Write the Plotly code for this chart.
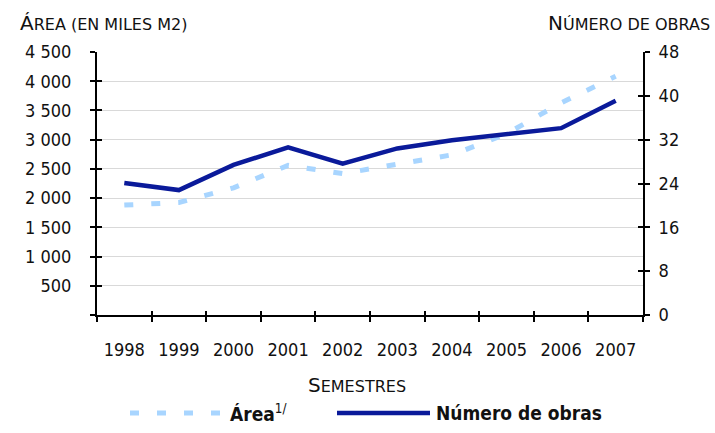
import plotly.graph_objects as go

years = ["1998", "1999", "2000", "2001", "2002", "2003", "2004", "2005", "2006", "2007"]
area_miles_m2 = [1880, 1925, 2175, 2560, 2420, 2585, 2740, 3100, 3630, 4085]
numero_obras = [24.1, 22.8, 27.4, 30.6, 27.6, 30.4, 31.9, 33.0, 34.1, 39.1]

left_ticks = [0, 500, 1000, 1500, 2000, 2500, 3000, 3500, 4000, 4500]
left_labels = ["", "500", "1 000", "1 500", "2 000", "2 500", "3 000", "3 500", "4 000", "4 500"]
right_ticks = [0, 8, 16, 24, 32, 40, 48]
right_labels = ["0", "8", "16", "24", "32", "40", "48"]

FONT = "DejaVu Sans Condensed, Liberation Sans Narrow, sans-serif"
TFONT = "DejaVu Sans, sans-serif"
DARK = "#0a1a9a"
LIGHT = "#a8d5ff"

W, H = 715, 433
L, R, T, B = 97, 72, 52, 118
PW, PH = W - L - R, H - T - B


def px(x):
    return (x - L) / PW


def py(y):
    return (H - B - y) / PH


fig = go.Figure()
fig.add_trace(go.Scatter(x=years, y=area_miles_m2, mode="lines", name="Área",
                         line=dict(color=LIGHT, width=5, dash="9px,18px"),
                         yaxis="y", showlegend=False))
fig.add_trace(go.Scatter(x=years, y=numero_obras, mode="lines", name="Número de obras",
                         line=dict(color=DARK, width=4.5),
                         yaxis="y2", showlegend=False))

axis_common = dict(showline=True, linecolor="black", linewidth=2,
                   tickcolor="black", tickwidth=2, ticklen=5,
                   tickfont=dict(family=FONT, size=18, color="#111"))

fig.update_layout(
    width=W, height=H,
    margin=dict(l=L, r=R, t=T, b=B, autoexpand=False),
    paper_bgcolor="white", plot_bgcolor="white",
    separators=", ",
    xaxis=dict(type="category", categoryorder="array", categoryarray=years,
               range=[-0.5, 9.5], tickson="boundaries", ticks="outside",
               showgrid=False, zeroline=False, ticklabelstandoff=17,
               **axis_common),
    xaxis2=dict(overlaying="x", range=[0, 10], tickvals=list(range(11)),
                ticks="inside", showticklabels=False, showgrid=False,
                zeroline=False, anchor="y", side="bottom",
                showline=False, tickcolor="black", tickwidth=2, ticklen=4),
    yaxis=dict(range=[0, 4500], tickvals=left_ticks, ticktext=left_labels,
               ticks="outside", showgrid=True, gridcolor="#d9d9d9", gridwidth=1.2,
               zeroline=False, ticklabelstandoff=15, **axis_common),
    yaxis2=dict(range=[0, 48], tickvals=right_ticks, ticktext=right_labels,
                overlaying="y", side="right", ticks="outside", showgrid=False,
                zeroline=False, ticklabelstandoff=5, **axis_common),
    yaxis3=dict(range=[0, 4500], tickvals=left_ticks, overlaying="y", side="left",
                anchor="x", ticks="inside", showticklabels=False, showgrid=False,
                zeroline=False, showline=False, tickcolor="black", tickwidth=2, ticklen=5),
    yaxis4=dict(range=[0, 48], tickvals=right_ticks, overlaying="y", side="right",
                anchor="x", ticks="inside", showticklabels=False, showgrid=False,
                zeroline=False, showline=False, tickcolor="black", tickwidth=2, ticklen=5),
    showlegend=False,
)

# invisible helper traces so overlay axes render
fig.add_trace(go.Scatter(x=[0], y=[0], xaxis="x2", yaxis="y3", mode="markers",
                         marker=dict(opacity=0), hoverinfo="skip", showlegend=False))
fig.add_trace(go.Scatter(x=[0], y=[0], xaxis="x2", yaxis="y4", mode="markers",
                         marker=dict(opacity=0), hoverinfo="skip", showlegend=False))

big, small = 20, 16
title_annos = [
    dict(x=px(18), y=py(23), xanchor="left", yanchor="middle",
         text=f"Á<span style='font-size:{small}px'>REA (EN MILES M2)</span>"),
    dict(x=px(712), y=py(23), xanchor="right", yanchor="middle",
         text=f"N<span style='font-size:{small}px'>ÚMERO DE OBRAS</span>"),
    dict(x=px(357), y=py(385), xanchor="center", yanchor="middle",
         text=f"S<span style='font-size:{small}px'>EMESTRES</span>"),
]
for a in title_annos:
    fig.add_annotation(xref="paper", yref="paper", showarrow=False,
                       font=dict(family=TFONT, size=big, color="#111"), **a)

legend_annos = [
    dict(x=px(228), y=py(413), xanchor="left", yanchor="middle",
         text="<b>Área</b><sup>1/</sup>"),
    dict(x=px(434), y=py(413), xanchor="left", yanchor="middle",
         text="<b>Número de obras</b>"),
]
for a in legend_annos:
    fig.add_annotation(xref="paper", yref="paper", showarrow=False,
                       font=dict(family=FONT, size=19, color="#111"), **a)

# legend keys
fig.add_shape(type="line", xref="paper", yref="paper",
              x0=px(130), x1=px(223), y0=py(413), y1=py(413),
              line=dict(color=LIGHT, width=5, dash="9px,18px"))
fig.add_shape(type="line", xref="paper", yref="paper",
              x0=px(337), x1=px(430), y0=py(413), y1=py(413),
              line=dict(color=DARK, width=4.5))

fig.write_html("out.html", config={"displayModeBar": False},
               post_script="document.body.style.margin='0';")
